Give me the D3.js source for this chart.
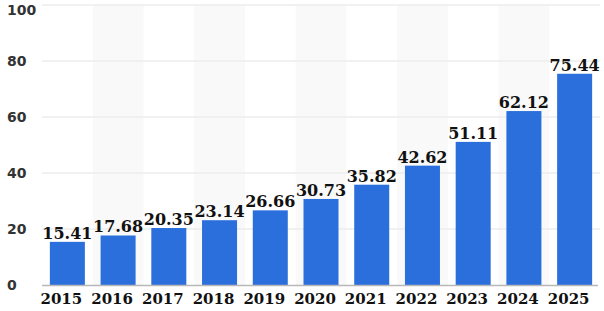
<!DOCTYPE html>
<html>
<head>
<meta charset="utf-8">
<script src="https://cdn.jsdelivr.net/npm/d3@7"></script>
<style>
  body { margin: 0; background: #fff; }
  svg { display: block; }
</style>
</head>
<body>
<div id="chart"></div>
<script>
// data
const years = ["2015", "2016", "2017", "2018", "2019", "2020", "2021", "2022", "2023", "2024", "2025"];
const values = [15.41, 17.68, 20.35, 23.14, 26.66, 30.73, 35.82, 42.62, 51.11, 62.12, 75.44];
const yTicks = [0, 20, 40, 60, 80, 100];

const W = 604, H = 311;
const BAR_COLOR = "#2a6fdb";

const svg = d3.select("#chart")
  .append("svg")
  .attr("width", W)
  .attr("height", H);

// scales
const x = d3.scaleBand()
  .domain(years)
  .range([42, 600])
  .paddingInner(0.31)
  .paddingOuter(0.155);

const y = d3.scaleLinear()
  .domain([0, 100])
  .range([285, 5]);

// alternating column backgrounds (very faint)
svg.append("g")
  .selectAll("rect")
  .data(years.filter((d, i) => i % 2 === 1))
  .join("rect")
  .attr("x", d => x(d) + x.bandwidth() / 2 - x.step() / 2)
  .attr("y", y(100))
  .attr("width", x.step())
  .attr("height", y(0) - y(100))
  .attr("fill", "#f9f9f9");

// horizontal grid
svg.append("g")
  .selectAll("line")
  .data(yTicks.filter(t => t > 0))
  .join("line")
  .attr("x1", 42)
  .attr("x2", 600)
  .attr("y1", d => y(d))
  .attr("y2", d => y(d))
  .attr("stroke", "#ededed")
  .attr("stroke-width", 1.5);

// y tick labels (top one pushed down so it is not clipped)
svg.append("g")
  .selectAll("text")
  .data(yTicks)
  .join("text")
  .attr("x", 7)
  .attr("y", d => Math.max(y(d) + 5, 15))
  .attr("font-family", "DejaVu Sans, sans-serif")
  .attr("font-weight", "bold")
  .attr("font-size", 14)
  .attr("fill", "#333")
  .text(d => d);

// bars
svg.append("g")
  .selectAll("rect")
  .data(values)
  .join("rect")
  .attr("x", (d, i) => x(years[i]))
  .attr("y", d => y(d))
  .attr("width", x.bandwidth())
  .attr("height", d => y(0) - y(d))
  .attr("fill", BAR_COLOR);

// baseline
svg.append("line")
  .attr("x1", 42)
  .attr("x2", 598)
  .attr("y1", y(0) + 0.5)
  .attr("y2", y(0) + 0.5)
  .attr("stroke", "#b8b8b8")
  .attr("stroke-width", 1.5);

// value labels
svg.append("g")
  .selectAll("text")
  .data(values)
  .join("text")
  .attr("x", (d, i) => x(years[i]) + x.bandwidth() / 2)
  .attr("y", d => y(d) - 3)
  .attr("text-anchor", "middle")
  .attr("font-family", "DejaVu Serif, serif")
  .attr("font-weight", "bold")
  .attr("font-size", 16)
  .attr("fill", "#111")
  .text(d => d.toFixed(2));

// x axis labels
const xAxis = svg.append("g")
  .attr("transform", `translate(0, ${y(0)})`)
  .call(d3.axisBottom(x).tickSize(0).tickPadding(8));
xAxis.select(".domain").remove();
xAxis.selectAll("text")
  .attr("dx", -6)
  .attr("font-family", "DejaVu Serif, serif")
  .attr("font-weight", "bold")
  .attr("font-size", 15)
  .attr("fill", "#111");
</script>
</body>
</html>
